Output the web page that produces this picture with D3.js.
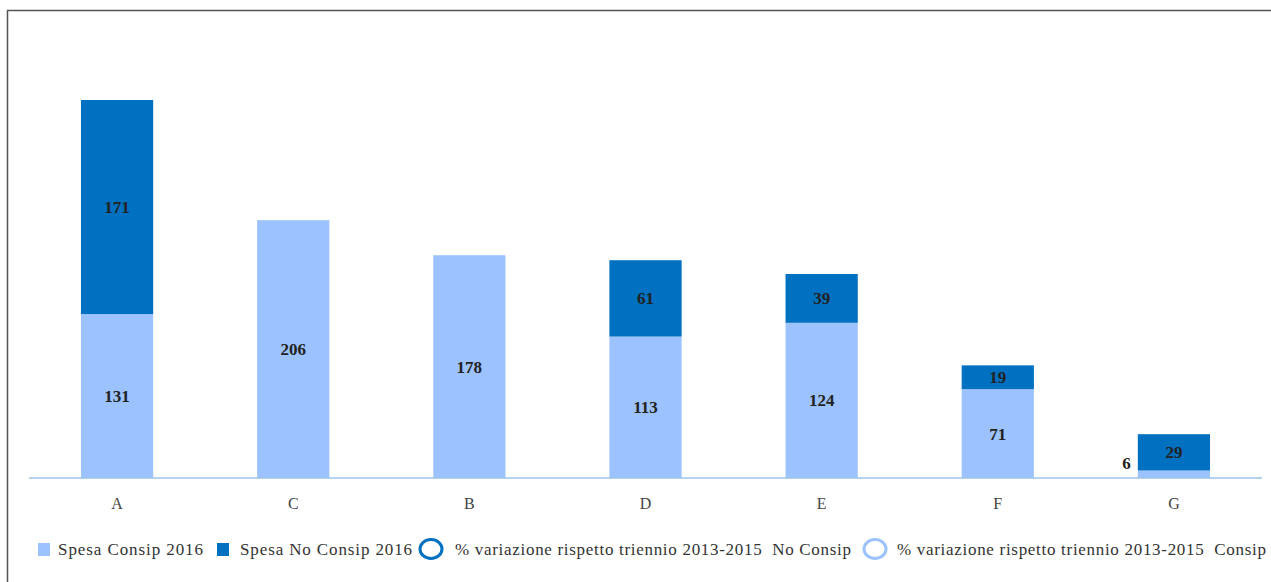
<!DOCTYPE html>
<meta charset="utf-8">
<head>
	<script src="https://d3js.org/d3.v7.min.js"></script>
</head>
<style>
	body { margin: 0; background: #fff; }
	svg { font-family: "Liberation Serif", "Times New Roman", serif; }
	.val { font-weight: 700; font-size: 17px; fill: #222; }
	.tick text { font-size: 16px; fill: #444; }
	.legend text { font-size: 17px; fill: #333; }
</style>
<body>
<script>
	// data
	var categories = ["A", "C", "B", "D", "E", "F", "G"];
	var consip = [131, 206, 178, 113, 124, 71, 6];
	var noConsip = [171, 0, 0, 61, 39, 19, 29];
	var legendLabels = ["Spesa Consip 2016", "Spesa No Consip 2016",
		"% variazione rispetto triennio 2013-2015  No Consip",
		"% variazione rispetto triennio 2013-2015  Consip"];

	var lightBlue = "#9cc3ff",
	    darkBlue = "#0070c0";

	var width = 1271, height = 582;
	var svg = d3.select("body").append("svg")
		.attr("width", width)
		.attr("height", height);

	// frame
	svg.append("rect")
		.attr("x", 7.5).attr("y", 10.5)
		.attr("width", 1300).attr("height", 600)
		.attr("fill", "none")
		.attr("stroke", "#555")
		.attr("stroke-width", 1.5);

	var x = d3.scaleBand()
		.domain(categories)
		.range([29, 1262])
		.paddingInner(0.59)
		.paddingOuter(0.295);

	var y = d3.scaleLinear()
		.domain([0, 302])
		.range([478, 100]);

	var rows = categories.map(function(c, i) {
		return { cat: c, consip: consip[i], noConsip: noConsip[i] };
	});
	var stack = d3.stack().keys(["consip", "noConsip"])(rows);
	var colors = { consip: lightBlue, noConsip: darkBlue };

	// bars
	var layer = svg.selectAll("g.layer")
		.data(stack)
		.enter().append("g")
		.attr("class", "layer")
		.attr("fill", function(d) { return colors[d.key]; });

	layer.selectAll("rect")
		.data(function(d) { return d.filter(function(s) { return s[1] > s[0]; }); })
		.enter().append("rect")
		.attr("x", function(d) { return x(d.data.cat); })
		.attr("width", x.bandwidth())
		.attr("y", function(d) { return y(d[1]); })
		.attr("height", function(d) { return y(d[0]) - y(d[1]); });

	// x axis
	var xAxis = svg.append("g")
		.attr("transform", "translate(0,478)")
		.call(d3.axisBottom(x).tickSize(0).tickPadding(20))
		.attr("font-family", null)
		.attr("font-size", null);
	xAxis.select(".domain").attr("stroke", "#9dc3e6").attr("stroke-width", 1.3)
		.attr("d", "M29,0H1262");

	// value labels
	stack.forEach(function(s) {
		s.forEach(function(d) {
			var v = d[1] - d[0];
			if (v <= 0) return;
			var h = y(d[0]) - y(d[1]);
			var t = svg.append("text").attr("class", "val").text(v);
			if (h < 16) {
				t.attr("x", x(d.data.cat) - 7)
					.attr("y", y(d[1]) - 1)
					.attr("text-anchor", "end");
			} else {
				t.attr("x", x(d.data.cat) + x.bandwidth() / 2)
					.attr("y", (y(d[0]) + y(d[1])) / 2)
					.attr("dy", "0.35em")
					.attr("text-anchor", "middle");
			}
		});
	});

	// legend
	var legend = svg.append("g").attr("class", "legend");
	var lx = [38, 217, 418, 862];
	var tx = [58, 240, 455, 897];
	var tw = [145, 172, 396, 369];
	var ly = 549;

	legend.append("rect").attr("x", lx[0]).attr("y", ly - 6).attr("width", 12).attr("height", 13).attr("fill", lightBlue);
	legend.append("rect").attr("x", lx[1]).attr("y", ly - 6).attr("width", 12).attr("height", 13).attr("fill", darkBlue);
	legend.append("ellipse").attr("cx", lx[2] + 13).attr("cy", ly).attr("rx", 11).attr("ry", 9.5)
		.attr("fill", "none").attr("stroke", darkBlue).attr("stroke-width", 3);
	legend.append("ellipse").attr("cx", lx[3] + 13).attr("cy", ly).attr("rx", 11).attr("ry", 9.5)
		.attr("fill", "none").attr("stroke", lightBlue).attr("stroke-width", 3);

	legendLabels.forEach(function(l, i) {
		legend.append("text")
			.attr("x", tx[i])
			.attr("y", ly)
			.attr("dy", "0.35em")
			.attr("textLength", tw[i])
			.attr("lengthAdjust", "spacing")
			.style("white-space", "pre")
			.text(l);
	});
</script>
</body>
